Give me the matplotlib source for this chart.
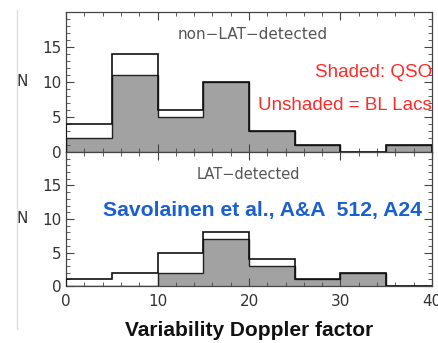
import numpy as np
import matplotlib.pyplot as plt
from matplotlib.ticker import MultipleLocator
from matplotlib.lines import Line2D

# bin edges of the Doppler factor histograms
edges = np.arange(0, 45, 5)

# non-LAT-detected: all sources (outline) and QSOs (shaded)
nonlat_all = [4, 14, 6, 10, 3, 1, 0, 1]
nonlat_qso = [2, 11, 5, 10, 3, 1, 0, 1]

# LAT-detected
lat_all = [1, 2, 5, 8, 4, 1, 2, 0]
lat_qso = [0, 0, 2, 7, 3, 1, 2, 0]

fig = plt.figure(figsize=(4.38, 3.43), dpi=100)
ax1 = fig.add_axes([0.151, 0.557, 0.835, 0.408])
ax2 = fig.add_axes([0.151, 0.166, 0.835, 0.391])

grey = "#a2a2a2"
lab_col = "#333333"
arial = "Liberation Sans"


def draw_hist(ax, tot, qso):
    ax.stairs(qso, edges, fill=True, color=grey, zorder=1)
    ax.stairs(qso, edges, color="#222222", lw=1.0, zorder=2)
    ax.stairs(tot, edges, color="#111111", lw=1.2, zorder=3)
    ax.set_xlim(0, 40)
    ax.set_ylim(0, 20)
    ax.xaxis.set_major_locator(MultipleLocator(10))
    ax.xaxis.set_minor_locator(MultipleLocator(2))
    ax.yaxis.set_major_locator(MultipleLocator(5))
    ax.yaxis.set_minor_locator(MultipleLocator(1))
    ax.set_yticks([0, 5, 10, 15])
    ax.tick_params(which="both", direction="in", top=True, right=True,
                   colors="#444444", labelcolor=lab_col, labelsize=11)
    ax.tick_params(which="major", length=6, width=0.8)
    ax.tick_params(which="minor", length=3, width=0.6)
    for s in ax.spines.values():
        s.set_color("#444444")
        s.set_linewidth(0.9)
    ax.set_ylabel("N", rotation=0, fontsize=11, color=lab_col)
    ax.yaxis.set_label_coords(-0.12, 0.45)


draw_hist(ax1, nonlat_all, nonlat_qso)
draw_hist(ax2, lat_all, lat_qso)
ax1.tick_params(axis="x", labelbottom=False)
ax2.set_xticks([0, 10, 20, 30, 40])
ax2.tick_params(axis="x", pad=6)

ax1.text(0.51, 0.81, "non\u2212LAT\u2212detected", transform=ax1.transAxes,
         ha="center", fontsize=11, color="#555555")
ax1.text(1.0, 0.535, "Shaded: QSO", transform=ax1.transAxes,
         ha="right", fontsize=13.6, color="#ff2a2a", family=arial)
ax1.text(1.0, 0.30, "Unshaded = BL Lacs", transform=ax1.transAxes,
         ha="right", fontsize=13.5, color="#ff2a2a", family=arial)

ax2.text(0.973, 0.52, "Savolainen et al., A&A  512, A24", transform=ax2.transAxes,
         ha="right", fontsize=15.2, color="#1a5fd0", fontweight="bold",
         family=arial)
ax2.text(0.358, 0.80, "LAT\u2212detected", transform=ax2.transAxes,
         ha="left", fontsize=10.5, color="#555555")

ax2.set_xlabel("Variability Doppler factor", fontsize=15, fontweight="bold",
               color="#111111", labelpad=8, family=arial)

# faint vertical edge line at the left of the screenshot
fig.add_artist(Line2D([0.039, 0.039], [0.04, 0.97], transform=fig.transFigure,
                      color="#dddddd", lw=1))

fig.savefig("out.png", dpi=100)
